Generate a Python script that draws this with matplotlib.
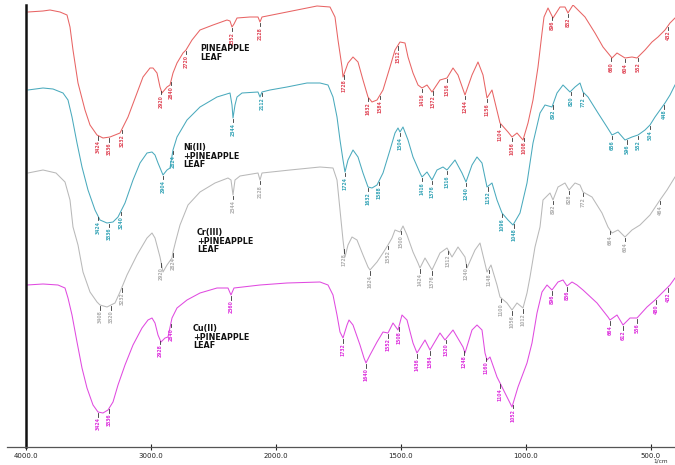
import numpy as np
import matplotlib
matplotlib.use("Agg")
import matplotlib.pyplot as plt

# ---- FTIR spectra (wavenumber in 1/cm, stacked transmittance in plot units) ----
wn_leaf = [3984, 3864, 3808, 3728, 3672, 3648, 3624, 3584, 3528, 3488, 3432, 3384, 3328, 3288, 3248,
           3184, 3112, 3064, 3008, 2984, 2952, 2928, 2912, 2872, 2848, 2824, 2792, 2744, 2720, 2672,
           2608, 2504, 2392, 2368, 2352, 2336, 2312, 2208, 2144, 2128, 2112, 1956, 1836, 1784, 1764,
           1752, 1736, 1732, 1712, 1692, 1672, 1652, 1632, 1616, 1596, 1572, 1544, 1524, 1504, 1484,
           1472, 1452, 1432, 1416, 1396, 1376, 1344, 1316, 1292, 1272, 1244, 1216, 1192, 1172, 1156,
           1136, 1104, 1072, 1056, 1036, 1012, 992, 972, 952, 936, 928, 912, 892, 864, 844,
           832, 812, 764, 724, 692, 656, 636, 604, 576, 556, 524, 496, 472, 444, 424, 404]
t_leaf = [435, 436, 437, 435, 432, 420, 397, 364, 337, 322, 312, 309, 310, 312, 314,
          330, 354, 370, 379, 379, 374, 360, 354, 360, 362, 374, 384, 394, 397, 407,
          417, 422, 427, 426, 420, 423, 429, 430, 430, 425, 430, 435, 441, 440, 430,
          407, 380, 370, 384, 390, 385, 367, 350, 345, 347, 357, 380, 397, 405, 404,
          390, 374, 362, 359, 362, 355, 367, 369, 379, 372, 352, 372, 385, 372, 349,
          357, 324, 315, 310, 314, 307, 324, 347, 380, 414, 430, 439, 429, 440, 440,
          434, 442, 430, 414, 400, 389, 394, 389, 390, 389, 397, 405, 410, 417, 424, 429]

wn_ni = [3984, 3864, 3784, 3704, 3664, 3632, 3592, 3552, 3504, 3448,
         3408, 3352, 3304, 3264, 3208, 3144, 3088, 3032, 2992, 2968,
         2944, 2904, 2872, 2848, 2824, 2792, 2712, 2608, 2472, 2368,
         2352, 2344, 2328, 2312, 2272, 2144, 2128, 2112, 2048, 1956,
         1876, 1824, 1792, 1772, 1756, 1744, 1732, 1724, 1712, 1692,
         1672, 1652, 1632, 1616, 1596, 1572, 1544, 1524, 1512, 1504,
         1492, 1472, 1452, 1424, 1416, 1396, 1376, 1356, 1332, 1316,
         1284, 1256, 1240, 1216, 1196, 1176, 1156, 1136, 1116, 1096,
         1072, 1052, 1024, 996, 972, 944, 924, 896, 876, 852,
         824, 804, 784, 772, 752, 712, 676, 656, 632, 604,
         576, 552, 524, 504, 484, 464, 444, 424, 404]
t_ni = [357, 359, 358, 354, 347, 330, 304, 280, 257, 237,
        227, 224, 225, 230, 244, 267, 284, 294, 295, 292,
        284, 272, 277, 279, 297, 310, 327, 340, 350, 354,
        342, 329, 342, 350, 354, 355, 350, 355, 357, 360,
        364, 364, 362, 350, 330, 307, 287, 275, 287, 297,
        290, 274, 260, 259, 262, 274, 297, 314, 319, 315,
        320, 307, 290, 274, 270, 275, 267, 277, 280, 277,
        287, 274, 265, 282, 290, 284, 260, 264, 247, 234,
        227, 222, 234, 264, 304, 334, 342, 340, 354, 362,
        355, 360, 364, 355, 350, 334, 320, 312, 315, 307,
        310, 312, 317, 322, 330, 337, 344, 352, 362]

wn_cr = [3984, 3864, 3760, 3688, 3648, 3624, 3584, 3544, 3488, 3432,
         3408, 3352, 3288, 3248, 3192, 3112, 3032, 2992, 2968, 2928,
         2904, 2872, 2832, 2824, 2800, 2768, 2704, 2608, 2488, 2384,
         2360, 2344, 2328, 2288, 2144, 2128, 2112, 1944, 1824, 1772,
         1756, 1744, 1732, 1724, 1712, 1696, 1676, 1652, 1632, 1624,
         1596, 1572, 1552, 1536, 1524, 1504, 1492, 1476, 1452, 1432,
         1424, 1404, 1376, 1344, 1316, 1296, 1272, 1244, 1236, 1204,
         1184, 1156, 1140, 1116, 1104, 1076, 1056, 1036, 1012, 996,
         984, 964, 944, 932, 904, 892, 872, 844, 828, 804,
         784, 772, 736, 696, 672, 656, 632, 604, 576, 544,
         504, 464, 436, 404]
t_cr = [274, 277, 274, 265, 247, 220, 202, 175, 155, 145,
        142, 140, 144, 155, 172, 192, 209, 214, 209, 190,
        175, 182, 189, 195, 207, 222, 242, 255, 264, 269,
        267, 252, 267, 271, 274, 267, 274, 277, 280, 279,
        267, 237, 207, 190, 202, 210, 207, 192, 180, 177,
        185, 194, 202, 209, 217, 215, 221, 212, 195, 184,
        179, 189, 177, 194, 199, 190, 200, 190, 179, 197,
        204, 175, 182, 162, 150, 144, 137, 144, 139, 154,
        170, 200, 220, 247, 254, 247, 260, 264, 257, 264,
        262, 255, 250, 234, 220, 214, 217, 210, 217, 222,
        232, 247, 257, 270]

wn_cu = [3992, 3864, 3744, 3688, 3664, 3632, 3592, 3552, 3512, 3464,
         3424, 3384, 3344, 3304, 3264, 3208, 3144, 3072, 3024, 2992,
         2968, 2944, 2920, 2888, 2864, 2832, 2792, 2712, 2608, 2472,
         2384, 2360, 2336, 2128, 1956, 1824, 1792, 1772, 1756, 1744,
         1732, 1716, 1708, 1692, 1664, 1648, 1640, 1624, 1596, 1572,
         1552, 1532, 1512, 1496, 1476, 1452, 1436, 1404, 1384, 1344,
         1324, 1292, 1252, 1244, 1216, 1196, 1176, 1164, 1156, 1144,
         1116, 1104, 1076, 1056, 1032, 996, 976, 956, 936, 916,
         896, 872, 852, 836, 816, 796, 772, 716, 672, 664,
         636, 612, 584, 556, 516, 484, 452, 424, 404]
t_cu = [162, 163, 162, 159, 149, 132, 105, 79, 59, 42,
        35, 34, 37, 45, 62, 82, 102, 119, 127, 129,
        124, 112, 105, 109, 110, 129, 139, 147, 154, 159,
        159, 152, 159, 162, 164, 165, 162, 152, 132, 115,
        109, 122, 127, 122, 102, 89, 84, 92, 105, 115,
        114, 124, 117, 132, 127, 104, 94, 107, 97, 114,
        107, 117, 100, 94, 117, 122, 117, 94, 87, 90,
        70, 64, 50, 40, 60, 84, 104, 134, 155, 162,
        157, 165, 167, 161, 165, 162, 157, 144, 130, 127,
        132, 122, 129, 129, 140, 147, 155, 162, 169]

# labelled band positions (1/cm)
peaks_leaf = [3424, 3336, 3232, 2920, 2840, 2720, 2352, 2128, 1728, 1632, 1584, 1512, 1416,
              1372, 1316, 1244, 1156, 1104, 1056, 1008, 896, 832, 660, 604, 552, 432]
peaks_ni = [3424, 3336, 3240, 2904, 2824, 2344, 2112, 1724, 1632, 1588, 1504, 1416, 1376,
            1316, 1240, 1152, 1096, 1048, 892, 820, 772, 656, 596, 552, 504, 448]
peaks_cr = [3408, 3320, 3232, 2920, 2824, 2344, 2128, 1728, 1624, 1552, 1500, 1424, 1376,
            1312, 1240, 1148, 1100, 1056, 1012, 892, 828, 772, 664, 604, 464]
peaks_cu = [3424, 3336, 2928, 2840, 2360, 1732, 1640, 1552, 1508, 1436, 1384, 1320, 1248,
            1160, 1104, 1052, 896, 836, 664, 612, 556, 480, 432]

sample_names = ["PINEAPPLE\nLEAF", "Ni(II)\n+PINEAPPLE\nLEAF",
                "Cr(III)\n+PINEAPPLE\nLEAF", "Cu(II)\n+PINEAPPLE\nLEAF"]
tick_values = [4000, 3000, 2000, 1500, 1000, 500]
tick_labels = ["4000.0", "3000.0", "2000.0", "1500.0", "1000.0", "500.0"]


# wavenumber axis with doubled scale below 2000 1/cm
def fwd(w):
    w = np.asarray(w, dtype=float)
    return np.where(w >= 2000, w / 1000.0, 2.0 + (w - 2000.0) / 500.0)


def inv(u):
    u = np.asarray(u, dtype=float)
    return np.where(u >= 2, u * 1000.0, 2000.0 + (u - 2.0) * 500.0)


fig = plt.figure(figsize=(6.75, 4.65), dpi=100)
ax = fig.add_axes([7 / 675, 18 / 465, 668 / 675, 442 / 465])
ax.set_xscale("function", functions=(fwd, inv))
ax.set_xlim(4152, 404)
ax.set_ylim(0, 442)

spectra = [
    (wn_leaf, t_leaf, peaks_leaf, "#e86464", "#e04a5a"),
    (wn_ni, t_ni, peaks_ni, "#4aaabd", "#3aa6b8"),
    (wn_cr, t_cr, peaks_cr, "#b9b9b9", "#b0b0b0"),
    (wn_cu, t_cu, peaks_cu, "#e04ae0", "#dd33dd"),
]
name_pos = [(2608, 403), (2744, 304), (2632, 219), (2664, 123)]

for (wn, t, peaks, lc, pc), name, (nx, ny) in zip(spectra, sample_names, name_pos):
    wn = np.asarray(wn, float)
    t = np.asarray(t, float)
    ax.plot(wn, t, color=lc, lw=0.75)
    for p in peaks:
        yc = np.interp(p, wn[::-1], t[::-1])
        ax.plot([p, p], [yc - 1, yc - 4.5], color="#333333", lw=0.6)
        ax.text(p, yc - 5, f"{p:.0f}", rotation=90, ha="center", va="top",
                fontsize=3.3, color=pc, fontweight="bold")
    ax.text(nx, ny, name, ha="left", va="top", fontsize=5.8, fontweight="bold",
            color="#111111", linespacing=0.95)

for s in ("top", "right"):
    ax.spines[s].set_visible(False)
ax.spines["left"].set_position(("data", 4000))
ax.spines["left"].set_linewidth(1.8)
ax.spines["left"].set_color("#111111")
ax.spines["bottom"].set_linewidth(0.9)
ax.spines["bottom"].set_color("#555555")

ax.set_yticks([])
ax.set_xticks(tick_values)
ax.set_xticklabels(tick_labels, fontsize=5)
ax.xaxis.set_minor_locator(matplotlib.ticker.NullLocator())
ax.tick_params(axis="x", direction="inout", length=5, width=0.8, pad=1.5, colors="#222222")

fig.text(661 / 675, 1 - 461 / 465, "1/cm", fontsize=4.2, ha="center", va="center", color="#333333")

fig.savefig("out.png", dpi=100)
